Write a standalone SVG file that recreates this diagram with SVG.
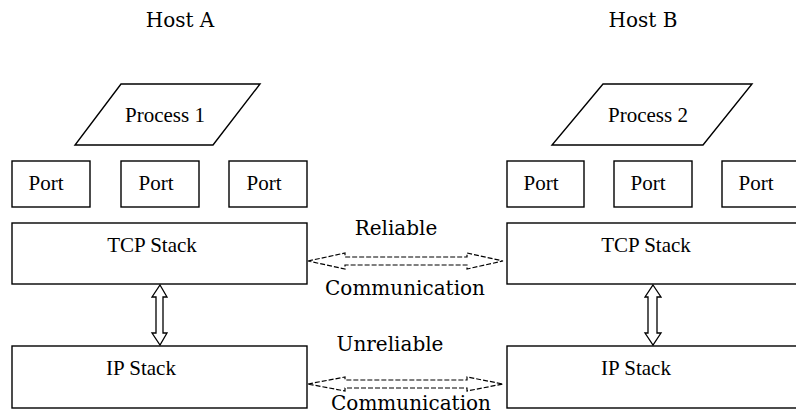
<svg xmlns="http://www.w3.org/2000/svg" width="796" height="414" viewBox="0 0 796 414">
  <style>
    .box { fill: #fff; stroke: #000; stroke-width: 1.4; }
    .lbl { font-family: "Liberation Serif", "DejaVu Serif", serif; font-size: 21px; fill: #000; text-anchor: middle; }
    .cap { font-family: "DejaVu Serif", "Liberation Serif", serif; font-size: 20px; fill: #000; text-anchor: middle; }
    .vlink { fill: #fff; stroke: #000; stroke-width: 1.3; }
    .hlink { fill: none; stroke: #000; stroke-width: 1.2; stroke-dasharray: 5 2; }
  </style>
  <rect width="796" height="414" fill="#fff"/>

  <!-- host captions -->
  <text class="cap" x="180" y="27">Host A</text>
  <text class="cap" x="643" y="27">Host B</text>

  <!-- Host A -->
  <g id="process1">
    <polygon class="box" points="121,84 260,84 213,145 75,145"/>
    <text class="lbl" x="165" y="122">Process 1</text>
  </g>
  <g id="portA1">
    <rect class="box" x="12" y="161" width="78" height="46"/>
    <text class="lbl" x="46" y="190">Port</text>
  </g>
  <g id="portA2">
    <rect class="box" x="121" y="161" width="78" height="46"/>
    <text class="lbl" x="156" y="190">Port</text>
  </g>
  <g id="portA3">
    <rect class="box" x="229" y="161" width="78" height="46"/>
    <text class="lbl" x="264" y="190">Port</text>
  </g>
  <g id="tcpA">
    <rect class="box" x="12" y="223" width="295" height="61"/>
    <text class="lbl" x="152" y="252">TCP Stack</text>
  </g>
  <g id="ipA">
    <rect class="box" x="12" y="346" width="295" height="62"/>
    <text class="lbl" x="141" y="375">IP Stack</text>
  </g>

  <!-- Host B -->
  <g id="process2">
    <polygon class="box" points="603,84 752,84 703,145 552,145"/>
    <text class="lbl" x="648" y="122">Process 2</text>
  </g>
  <g id="portB1">
    <rect class="box" x="507" y="161" width="77" height="46"/>
    <text class="lbl" x="541" y="190">Port</text>
  </g>
  <g id="portB2">
    <rect class="box" x="614" y="161" width="78" height="46"/>
    <text class="lbl" x="648" y="190">Port</text>
  </g>
  <g id="portB3">
    <rect class="box" x="722" y="161" width="90" height="46"/>
    <text class="lbl" x="756" y="190">Port</text>
  </g>
  <g id="tcpB">
    <rect class="box" x="507" y="223" width="300" height="61"/>
    <text class="lbl" x="646" y="252">TCP Stack</text>
  </g>
  <g id="ipB">
    <rect class="box" x="507" y="346" width="300" height="62"/>
    <text class="lbl" x="636" y="375">IP Stack</text>
  </g>

  <!-- connectors -->
  <g id="connectors">
    <!-- TCP <-> IP inside each host: hollow double arrows -->
    <polygon class="vlink" points="160,285 167,297 163,297 163,333 167,333 160,345 152,333 156,333 156,297 152,297"/>
    <polygon class="vlink" points="653,285 661,297 657,297 657,333 661,333 653,345 645,333 648,333 648,297 645,297"/>

    <!-- host to host: dashed hollow double arrows -->
    <polygon class="hlink" points="308,261 345,253 345,257 467,257 467,253 503,261 467,269 467,265 345,265 345,269"/>
    <polygon class="hlink" points="308,384 345,377 345,380 467,380 467,377 503,384 467,391 467,388 345,388 345,391"/>

    <text class="cap" x="396" y="235">Reliable</text>
    <text class="cap" x="405" y="295">Communication</text>
    <text class="cap" x="390" y="351">Unreliable</text>
    <text class="cap" x="411" y="410">Communication</text>
  </g>
</svg>
